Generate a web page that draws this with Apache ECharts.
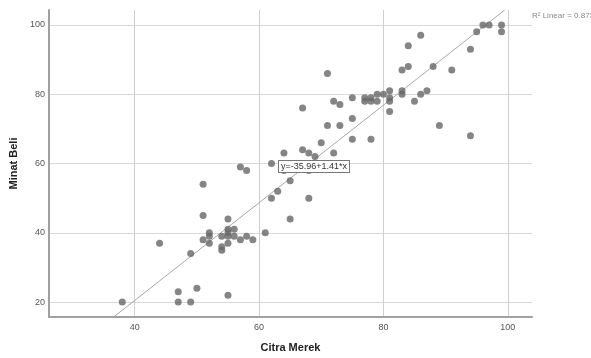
<!DOCTYPE html>
<html>
<head>
<meta charset="utf-8">
<script src="https://cdn.jsdelivr.net/npm/echarts@6/dist/echarts.min.js"></script>
<style>
    html, body { margin: 0; padding: 0; background: #fff; }
    #chart { width: 591px; height: 358px; }
</style>
</head>
<body>
<div id="chart"></div>
<script>
// 数据：Citra Merek (x) 与 Minat Beli (y)
const citraMerek = [38, 44, 47, 47, 49, 49, 50, 51, 51, 51, 52, 52, 52, 54, 54, 54, 55, 55, 55, 55, 55, 55, 56, 56, 57, 58, 59, 61,
    62, 63, 65, 65, 57, 58, 62, 64, 64, 67, 68, 68, 68, 69, 70, 72, 75, 67, 71, 72, 73, 71, 73, 75, 75, 77, 77, 78, 78, 79,
    79, 80, 81, 81, 81, 81, 78, 83, 84, 83, 83, 85, 86, 87, 84, 86, 88, 91, 94, 95, 96, 97, 99, 99, 89, 94];
const minatBeli = [20, 37, 23, 20, 20, 34, 24, 54, 45, 38, 40, 39, 37, 39, 36, 35, 44, 41, 40, 39, 37, 22, 41, 39, 38, 39, 38, 40,
    50, 52, 55, 44, 59, 58, 60, 63, 58, 64, 63, 58, 50, 62, 66, 63, 67, 76, 86, 78, 77, 71, 71, 79, 73, 79, 78, 79, 78, 80,
    78, 80, 81, 79, 78, 75, 67, 87, 88, 81, 80, 78, 80, 81, 94, 97, 88, 87, 93, 98, 100, 100, 100, 98, 71, 68];

// 拟合线端点
const fitLine = [[36.6, 15.7], [99.5, 104.3]];
const xTicks = [40, 60, 80, 100];
const yTicks = [20, 40, 60, 80, 100];

const points = citraMerek.map((x, i) => [x, minatBeli[i]]);

const chart = echarts.init(document.getElementById('chart'));
chart.setOption({
    animation: false,
    grid: { left: 48, right: 59, top: 10, bottom: 38 },
    xAxis: {
        type: 'value',
        min: 26.2,
        max: 103.9,
        name: 'Citra Merek',
        nameLocation: 'middle',
        nameGap: 25,
        nameTextStyle: { fontFamily: 'Liberation Sans', fontWeight: 'bold', fontSize: 11, color: '#222' },
        axisLine: { lineStyle: { color: '#a0a0a0', width: 2 } },
        axisTick: { show: false, customValues: xTicks },
        axisLabel: { customValues: xTicks, fontFamily: 'Liberation Sans', fontSize: 9, color: '#555', margin: 6 },
        splitLine: { lineStyle: { color: '#cfcfcf', width: 1 } }
    },
    yAxis: {
        type: 'value',
        min: 15.7,
        max: 104.3,
        name: 'Minat Beli',
        nameLocation: 'middle',
        nameGap: 26,
        nameTextStyle: { fontFamily: 'Liberation Sans', fontWeight: 'bold', fontSize: 11, color: '#222' },
        axisLine: { show: true, lineStyle: { color: '#a0a0a0', width: 2 } },
        axisTick: { show: false, customValues: yTicks },
        axisLabel: { customValues: yTicks, fontFamily: 'Liberation Sans', fontSize: 9, color: '#555', margin: 4 },
        splitLine: { lineStyle: { color: '#d8d8d8', width: 1 } }
    },
    series: [
        {
            type: 'line',
            data: fitLine,
            symbol: 'none',
            lineStyle: { color: '#a8a8a8', width: 1 },
            z: 1
        },
        {
            type: 'scatter',
            data: points,
            symbolSize: 7,
            itemStyle: { color: '#666' },
            z: 2
        }
    ],
    graphic: [
        {
            type: 'text',
            left: 278,
            top: 160,
            z: 10,
            style: {
                text: 'y=-35.96+1.41*x',
                font: '9px "Liberation Sans"',
                fill: '#333',
                backgroundColor: '#fff',
                borderColor: '#777',
                borderWidth: 1,
                padding: [1, 2]
            }
        },
        {
            type: 'text',
            left: 532,
            top: 12,
            style: {
                text: 'R² Linear = 0.873',
                font: '8px "Liberation Sans"',
                fill: '#888'
            }
        }
    ]
});
</script>
</body>
</html>
